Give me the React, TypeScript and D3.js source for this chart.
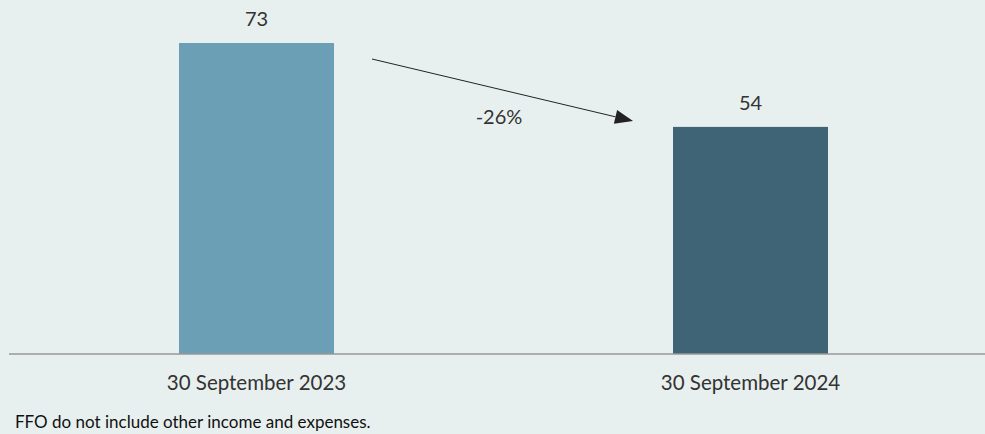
import React from "react";
import * as d3 from "d3";

const categories = ["30 September 2023", "30 September 2024"];
const values = [73.4, 53.6];
const changeLabel = "-26%";
const footnote = "FFO do not include other income and expenses.";
const colors = ["#6a9fb5", "#3e6475"];

const W = 985;
const H = 434;
const FONT = "Lato, 'Open Sans', sans-serif";

export default function App() {
  const baseY = 354;
  const x = d3.scalePoint<string>().domain(categories).range([256.5, 750.5]);
  const y = d3.scaleLinear().domain([0, 73.4]).range([baseY, 43]);
  const bw = 155;
  const fmt = d3.format(".0f");

  const p1 = { x: 372, y: 59 };
  const p2 = { x: 633, y: 121 };
  const ang = Math.atan2(p2.y - p1.y, p2.x - p1.x);
  const hl = 18, hw = 7;
  const bx = p2.x - hl * Math.cos(ang);
  const by = p2.y - hl * Math.sin(ang);
  const head = [
    [p2.x, p2.y],
    [bx + hw * Math.sin(ang), by - hw * Math.cos(ang)],
    [bx - hw * Math.sin(ang), by + hw * Math.cos(ang)],
  ];

  return (
    <svg width={W} height={H} style={{ position: "absolute", left: 0, top: 0, display: "block" }}>
      <rect x={0} y={0} width={W} height={H} fill="#e8f0ef" />
      {categories.map((c, i) => (
        <g key={c}>
          <rect
            x={(x(c) as number) - bw / 2}
            y={y(values[i])}
            width={bw}
            height={baseY - y(values[i])}
            fill={colors[i]}
          />
          <text
            x={x(c)}
            y={y(values[i]) - 17}
            textAnchor="middle"
            fontFamily={FONT}
            fontSize={20}
            fill="#333"
          >
            {fmt(values[i])}
          </text>
          <text
            x={x(c)}
            y={390}
            textAnchor="middle"
            fontFamily={FONT}
            fontSize={20.5}
            fill="#333"
          >
            {c}
          </text>
        </g>
      ))}
      <line x1={9} x2={W} y1={baseY} y2={baseY} stroke="#999" strokeWidth={1.5} />
      <line x1={p1.x} y1={p1.y} x2={bx} y2={by} stroke="#222" strokeWidth={1} />
      <polygon points={head.map((p) => p.join(",")).join(" ")} fill="#222" />
      <text x={499} y={124} textAnchor="middle" fontFamily={FONT} fontSize={20} fill="#333">
        {changeLabel}
      </text>
      <text x={15} y={428} fontFamily={FONT} fontSize={17} fill="#111">
        {footnote}
      </text>
    </svg>
  );
}
